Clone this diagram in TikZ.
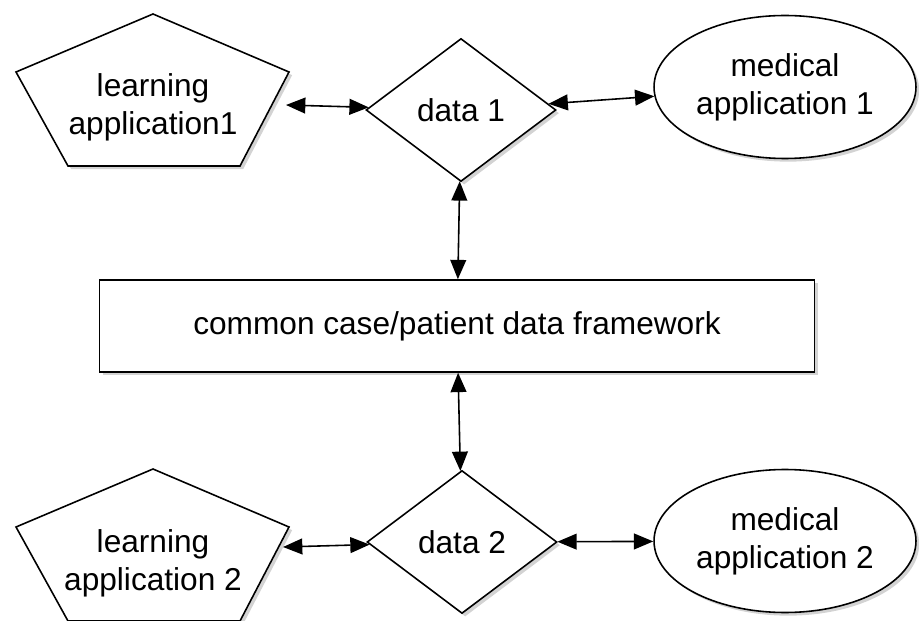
\documentclass[tikz,border=0pt]{standalone}
\usepackage{fontspec}
\setmainfont{Liberation Sans}
\usetikzlibrary{positioning,arrows.meta,shapes.geometric,shadows}

\begin{document}
\begin{tikzpicture}[
  x=0.02cm, y=-0.02cm,
  shade/.style={drop shadow={shadow xshift=1.8pt, shadow yshift=-1.8pt, opacity=0.35}},
  lbl/.style={font=\fontsize{18}{21.6}\selectfont, align=center},
  penta/.style={draw, line width=0.9pt, fill=white, line join=miter, shade},
  dia/.style={diamond, draw, line width=0.9pt, fill=white, shade, lbl,
              minimum width=3.8cm, minimum height=2.86cm, inner sep=0pt},
  oval/.style={ellipse, draw, line width=0.9pt, fill=white, shade, lbl,
               minimum width=5.24cm, minimum height=2.86cm, inner sep=0pt},
  box/.style={rectangle, draw, line width=0.9pt, fill=white, shade, lbl,
              minimum width=14.3cm, minimum height=1.84cm},
  arr/.style={{Triangle[length=11pt,width=9pt]}-{Triangle[length=11pt,width=9pt]}, line width=0.9pt}
]
  \useasboundingbox (0,0) rectangle (919,621);
  % learning applications (stretched pentagons)
  \draw[penta] (153,14) -- (289,72) -- (240,166) -- (68,166) -- (16,72) -- cycle;
  \draw[penta] (153,469) -- (289,527) -- (240,621) -- (68,621) -- (16,527) -- cycle;
  \node[lbl] (learn1) at (153,107) {learning\\application1};
  \node[lbl] (learn2) at (153,563) {learning\\application 2};
  \coordinate (learn1e) at (286,105);
  \coordinate (learn2e) at (283,547);
  % data nodes
  \node[dia]  (data1) at (461,110) {data 1};
  \node[dia]  (data2) at (462,542) {data 2};
  % medical applications
  \node[oval] (med1)  at (785,87)  {medical\\application 1};
  \node[oval] (med2)  at (785,541) {medical\\application 2};
  % framework
  \node[box]  (frame) at (457,326) {common case/patient data framework};
  \draw[arr] (learn1e) -- (data1);
  \draw[arr] (data1) -- (med1);
  \draw[arr] (data1) -- (frame);
  \draw[arr] (frame) -- (data2);
  \draw[arr] (learn2e) -- (data2);
  \draw[arr] (data2) -- (med2);
\end{tikzpicture}
\end{document}
